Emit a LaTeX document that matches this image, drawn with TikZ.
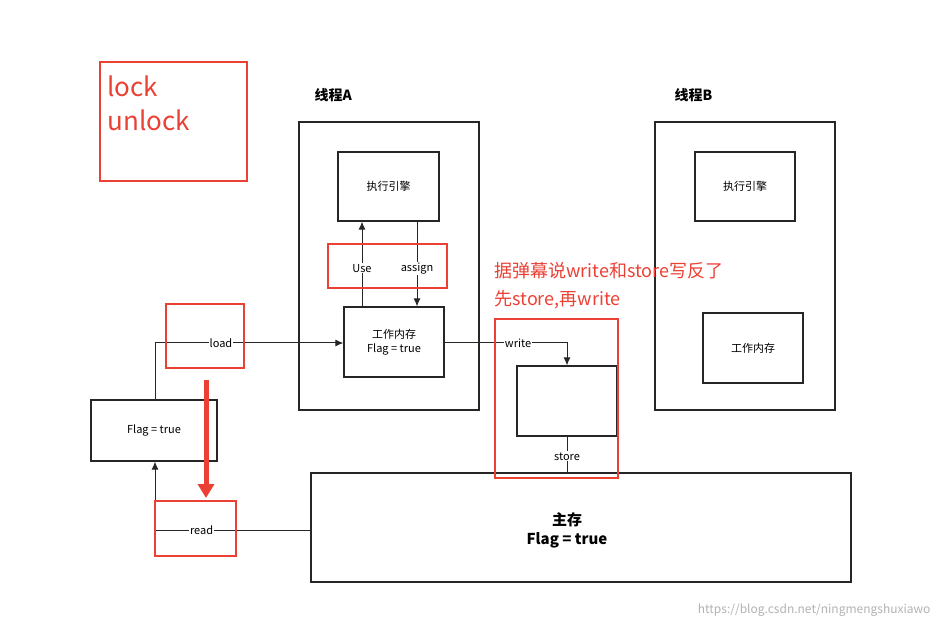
\documentclass[tikz,border=0pt]{standalone}
\usepackage{fontspec}
\setmainfont{Noto Sans CJK SC}
\usetikzlibrary{arrows.meta}
\definecolor{hl}{RGB}{235,64,52}
\begin{document}
\begin{tikzpicture}[x=1pt,y=-1pt,
  box/.style={draw=black!85,line width=1.2pt},
  redbox/.style={draw=hl,line width=1.6pt},
  lbl/.style={fill=white,inner sep=1pt,font=\fontsize{11}{13}\selectfont},
  con/.style={draw=black!85,line width=1pt},
  arr/.style={con,-{Latex[length=8pt,width=7pt]}}]
\useasboundingbox (0,0) rectangle (943,628);
% red highlight boxes
\draw[redbox] (100,62) rectangle (247,181);
\node[anchor=west,text=hl,font=\fontsize{26}{28}\selectfont] (lk) at (104,86) {lock};
\node[anchor=west,text=hl,font=\fontsize{26}{28}\selectfont] (ulk) at (104,120) {unlock};
% thread A
\node[anchor=west,font=\bfseries\fontsize{14}{16}\selectfont] (ta) at (311,95) {线程A};
\draw[box] (299,122) rectangle (479,410);
\node[box,minimum width=101pt,minimum height=69pt,font=\fontsize{11}{13}\selectfont] (ea) at (388.5,186.5) {执行引擎};
\node[box,minimum width=100pt,minimum height=70pt,align=center,font=\fontsize{11}{14}\selectfont] (wa) at (394,342) {工作内存\\Flag = true};
% thread B
\node[anchor=west,font=\bfseries\fontsize{14}{16}\selectfont] (tb) at (671,95) {线程B};
\draw[box] (655,122) rectangle (835,410);
\node[box,minimum width=100pt,minimum height=69pt,font=\fontsize{11}{13}\selectfont] (eb) at (745,186.5) {执行引擎};
\node[box,minimum width=100pt,minimum height=70pt,font=\fontsize{11}{13}\selectfont] (wb) at (753,348) {工作内存};
% main memory
\node[box,minimum width=540pt,minimum height=109pt] (mm) at (581,527.5) {};
\node[align=center,font=\bfseries\fontsize{15}{19}\selectfont] (mmt) at (567,530) {主存\\Flag = true};
\node[box,minimum width=126pt,minimum height=61pt,font=\fontsize{11}{13}\selectfont] (fl) at (154,430.5) {Flag = true};
\node[box,minimum width=100pt,minimum height=70pt] (tmp) at (567,401) {};
% use / assign
\draw[arr] (wa.north -| 362,0) -- node[lbl,pos=0.45]{Use} (ea.south -| 362,0);
\draw[arr] (ea.south -| 417,0) -- node[lbl,pos=0.55]{assign} (wa.north -| 417,0);
% load
\coordinate (lc) at (155,343);
\draw[arr] (fl.north -| lc) -- (lc) -- node[lbl,pos=0.35]{load} (wa.west |- lc);
% write
\coordinate (wc) at (567,343);
\draw[arr] (wa.east |- wc) -- node[lbl,pos=0.6]{write} (wc) -- (tmp.north);
% store
\draw[con] (tmp.south) -- node[lbl,pos=0.55]{store} (mm.north -| tmp.south);
% read
\coordinate (rc) at (155,530);
\draw[arr] (mm.west |- rc) -- node[lbl,pos=0.7]{read} (rc) -- (fl.south -| rc);
% red annotations
\draw[redbox] (328,244) rectangle (447,288);
\draw[redbox] (166,304) rectangle (244,368);
\draw[redbox] (155,501) rectangle (236,556);
\draw[redbox] (495,319) rectangle (618,478);
\node[anchor=west,text=hl,font=\fontsize{18}{20}\selectfont] (n1) at (491,271) {据弹幕说write和store写反了};
\node[anchor=west,text=hl,font=\fontsize{18}{20}\selectfont] (n2) at (491,300) {先store,再write};
\coordinate (ra) at (206,380);
\coordinate (rb) at (206,498);
\draw[hl,line width=5pt,-{Triangle[length=14pt,width=16pt]}] (ra) -- (rb);
\node[anchor=east,text=black!30,font=\fontsize{12}{14}\selectfont] (wm) at (934,610) {https://blog.csdn.net/ningmengshuxiawo};
\end{tikzpicture}
\end{document}
